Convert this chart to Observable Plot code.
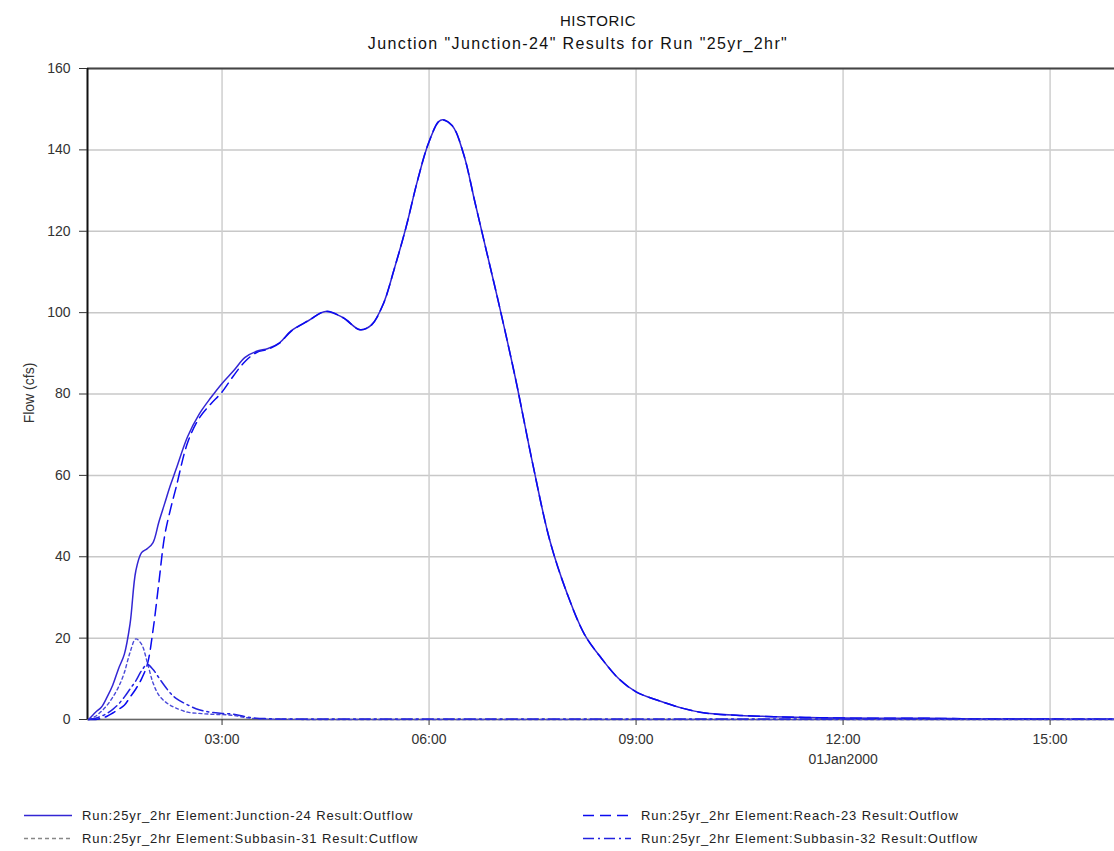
<!DOCTYPE html>
<html>
<head>
<meta charset="utf-8">
<script src="https://cdn.jsdelivr.net/npm/d3@7"></script>
<script src="https://cdn.jsdelivr.net/npm/@observablehq/plot@0.6"></script>
<style>
  html, body { margin: 0; padding: 0; background: #fff; }
  body { width: 1114px; height: 851px; position: relative; font-family: "Liberation Sans", Arial, sans-serif; overflow: hidden; }
  .t { position: absolute; white-space: nowrap; color: #111; transform: translate(-50%, -50%); }
  #chart { position: absolute; left: 0; top: 58px; }
  .leg { position: absolute; display: flex; align-items: center; font-size: 13px; letter-spacing: 0.9px; color: #222; white-space: nowrap; transform: translateY(-50%); }
  .leg svg { margin-right: 10px; }
  #ylab { position: absolute; left: 29px; top: 393px; transform: translate(-50%, -50%) rotate(-90deg); font-size: 14px; color: #333; white-space: nowrap; }
</style>
</head>
<body>
<div class="t" style="left:598px; top:20px; font-size:15px; letter-spacing:0.6px;">HISTORIC</div>
<div class="t" style="left:578px; top:44px; font-size:16px; letter-spacing:1.4px;">Junction "Junction-24" Results for Run "25yr_2hr"</div>
<div id="chart"></div>
<div id="ylab">Flow (cfs)</div>
<div id="legend"></div>
<script>
// Time stamps (01Jan2000)
const times = ["01:04","01:10","01:15","01:20","01:25","01:30","01:35","01:40","01:45","01:50","01:55","02:00","02:05","02:10","02:15","02:20","02:30","02:40","02:50","03:00","03:10","03:20","03:30","03:40","03:50","04:00","04:15","04:30","04:45","05:00","05:10","05:20","05:30","05:40","05:50","06:00","06:10","06:20","06:30","06:40","06:50","07:00","07:15","07:30","07:45","08:00","08:15","08:30","08:45","09:00","09:20","09:40","10:00","10:30","11:00","11:30","12:00","12:30","13:00","13:30","14:00","14:30","15:00","15:30","15:55"];

// Flow (cfs) per element
const junction24 = [0,1.8,3,5.5,8.5,12.5,16,23.5,36.5,41,42,43.5,48.5,53,57.5,61.5,69.5,75,79,82.6,85.7,89,90.5,91.2,92.6,95.5,98,100.3,98.8,95.8,97,102,111,121,132.5,142,147.3,146,139,127,115,103,84,63,44,31,21,15,10,6.8,4.6,2.8,1.6,1.0,0.7,0.5,0.35,0.3,0.3,0.25,0.15,0.1,0.1,0.05,0.05];
const reach23    = [0,0,0.3,0.8,1.6,2.5,3.5,5.5,7.5,10,13.5,22,33.5,45,51.5,57,68,74,77.5,80.5,84.5,88,90.2,91,92.5,95.4,98,100.3,98.8,95.8,97,102,111,121,132.5,142,147.3,146,139,127,115,103,84,63,44,31,21,15,10,6.8,4.6,2.8,1.6,1.0,0.7,0.5,0.35,0.3,0.3,0.25,0.15,0.1,0.1,0.05,0.05];
const subbasin31 = [0,0.8,2,3.5,5.5,8,11.5,16.5,19.8,18.5,14,9,6,4.5,3.5,2.8,1.8,1.5,1.3,1.2,1.0,0.5,0.2,0.1,0.05,0.05,0,0,0,0,0,0,0,0,0,0,0,0,0,0,0,0,0,0,0,0,0,0,0,0,0,0,0,0,0,0,0,0,0,0,0,0,0,0,0];
const subbasin32 = [0,0.3,0.8,1.5,2.5,3.8,5.5,7.5,9.5,12,13.5,12.3,10.3,8.3,6.5,5.2,3.6,2.4,1.8,1.5,1.3,0.7,0.3,0.2,0.1,0.1,0.1,0.1,0.1,0.1,0.1,0.1,0.1,0.1,0.1,0.1,0.1,0.1,0.1,0.1,0.1,0.1,0.1,0.1,0.1,0.1,0.1,0.1,0.1,0.1,0.1,0.1,0.1,0.1,0.1,0.1,0.1,0.1,0.1,0.1,0.1,0.1,0.1,0.1,0.1];

const seriesNames = [
  "Run:25yr_2hr Element:Junction-24 Result:Outflow",
  "Run:25yr_2hr Element:Reach-23 Result:Outflow",
  "Run:25yr_2hr Element:Subbasin-31 Result:Cutflow",
  "Run:25yr_2hr Element:Subbasin-32 Result:Outflow"
];
const yTicks = [0,20,40,60,80,100,120,140,160];
const xTickLabels = ["03:00","06:00","09:00","12:00","15:00"];
const dateLabel = "01Jan2000";

const toDate = s => new Date("2000-01-01T" + s + ":00Z");
const values = [junction24, reach23, subbasin31, subbasin32];
const styles = [
  {stroke: "#3326d4", dash: null, w: 1.5},
  {stroke: "#0a0af0", dash: "11,6", w: 1.5},
  {stroke: "#4a4ad8", dash: "3,3", w: 1.4},
  {stroke: "#2222e0", dash: "11,4,2,4", w: 1.5}
];
const legendColors = ["#3326d4", "#0a0af0", "#888888", "#2222e0"];

const rows = values.map((vals, k) => times.map((t, i) => ({t: toDate(t), v: vals[i], s: k})));

const xTicks = xTickLabels.map(toDate);
const x0 = toDate("01:03"), x1 = new Date(Date.UTC(2000,0,1,15,56));

const marks = [
  Plot.gridY(yTicks, {stroke: "#c8c8c8", strokeOpacity: 1, strokeWidth: 1.5}),
  Plot.gridX(xTicks, {stroke: "#cfcfcf", strokeOpacity: 1, strokeWidth: 1.5}),
  Plot.ruleY([0], {stroke: "#666", strokeWidth: 1.5}),
  Plot.ruleY([160], {stroke: "#444", strokeWidth: 2}),
  Plot.ruleX([x0], {stroke: "#111", strokeWidth: 2}),
  Plot.axisY(yTicks, {tickSize: 8, tickPadding: 9, fontSize: 14, label: null, color: "#333"}),
  Plot.axisX(xTicks, {tickSize: 6, tickPadding: 9, fontSize: 14, tickFormat: d3.utcFormat("%H:%M"), label: null, color: "#333"}),
  Plot.text([dateLabel], {x: () => toDate("12:00"), frameAnchor: "bottom", dy: 44, fontSize: 14, fill: "#333"})
];
rows.forEach((r, k) => {
  marks.push(Plot.line(r, {x: "t", y: "v", stroke: styles[k].stroke, strokeWidth: styles[k].w, strokeDasharray: styles[k].dash, curve: "catmull-rom"}));
});

const chart = Plot.plot({
  width: 1114,
  height: 720,
  marginLeft: 87,
  marginRight: 0,
  marginTop: 10,
  marginBottom: 59,
  style: {fontFamily: "Liberation Sans, Arial, sans-serif", background: "#fff", overflow: "visible"},
  x: {type: "utc", domain: [x0, x1]},
  y: {domain: [0, 160]},
  marks
});
document.getElementById("chart").appendChild(chart);

// Legend
const legPos = [
  {x: 24, y: 815}, {x: 583, y: 815}, {x: 24, y: 838}, {x: 583, y: 838}
];
const legend = document.getElementById("legend");
[0, 1, 2, 3].forEach((k, i) => {
  const div = document.createElement("div");
  div.className = "leg";
  div.style.left = legPos[i].x + "px";
  div.style.top = legPos[i].y + "px";
  const dash = styles[k].dash ? ` stroke-dasharray="${k === 2 ? '4,3' : styles[k].dash}"` : "";
  div.innerHTML = `<svg width="48" height="6"><line x1="0" y1="3" x2="48" y2="3" stroke="${legendColors[k]}" stroke-width="1.5"${dash}/></svg><span>${seriesNames[k]}</span>`;
  legend.appendChild(div);
});
</script>
</body>
</html>
